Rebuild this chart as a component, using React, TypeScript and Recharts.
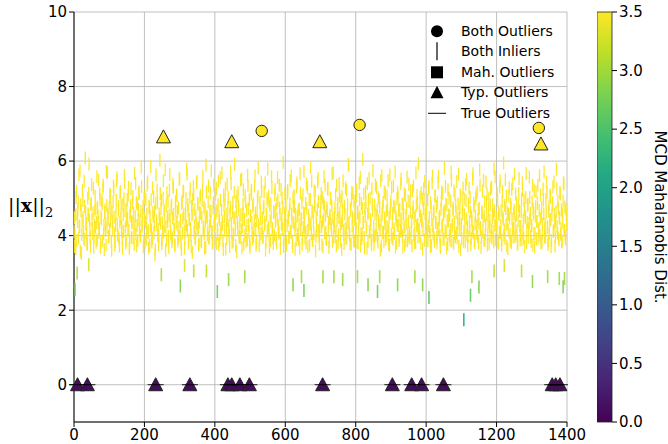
import { ScatterChart, Scatter, XAxis, YAxis, CartesianGrid, ReferenceArea } from "recharts";

const X_TICKS = [0, 200, 400, 600, 800, 1000, 1200, 1400];
const Y_TICKS = [0, 2, 4, 6, 8, 10];
const CBAR_TICKS = [0, 0.5, 1, 1.5, 2, 2.5, 3, 3.5];
const CBAR_MAX = 3.5;

// inliers (norm per sample); even samples, one array per 200 samples
const band0 = [
  4.12, 3.71, 4.55, 5.02, 3.86, 4.38, 4.91, 5.63, 4.24, 3.58,
  4.66, 4.03, 5.21, 4.47, 3.92, 4.79, 6.08, 4.31, 4.08, 3.77,
  4.59, 5.14, 4.42, 3.95, 4.83, 5.37, 4.17, 4.61, 3.69, 4.28,
  5.06, 4.73, 4.35, 3.88, 4.52, 5.49, 4.19, 4.97, 3.81, 4.44,
  4.86, 5.28, 4.06, 3.63, 4.69, 4.33, 5.72, 4.21, 4.58, 3.97,
  4.76, 5.11, 4.39, 3.84, 4.63, 4.15, 5.33, 4.49, 3.74, 4.27,
  4.94, 5.55, 4.02, 4.68, 3.91, 4.36, 5.18, 4.81, 4.11, 3.66,
  4.57, 4.99, 5.42, 4.23, 3.87, 4.71, 4.46, 5.09, 4.14, 3.79,
  4.62, 5.26, 4.37, 4.89, 3.94, 4.29, 5.67, 4.51, 4.05, 3.73,
  4.84, 4.41, 5.13, 4.18, 3.99, 4.65, 5.31, 4.32, 4.77, 3.85,
];
const band1 = [
  4.45, 3.82, 4.97, 4.21, 5.36, 4.08, 3.67, 4.74, 4.53, 5.85,
  4.16, 3.93, 4.62, 5.04, 4.29, 3.48, 4.87, 4.40, 5.22, 4.01,
  3.76, 4.58, 6.02, 4.34, 4.95, 3.89, 4.13, 5.47, 4.69, 4.26,
  3.61, 4.82, 5.15, 4.37, 3.98, 4.55, 5.64, 4.10, 4.73, 3.84,
  4.48, 5.29, 4.19, 3.72, 4.91, 4.35, 5.08, 4.64, 3.95, 4.22,
  5.53, 4.41, 3.79, 4.86, 4.07, 5.19, 4.57, 3.66, 4.30, 4.99,
  5.78, 4.15, 4.68, 3.87, 4.43, 5.25, 4.02, 4.79, 3.55, 4.61,
  5.11, 4.27, 3.91, 4.52, 5.42, 4.18, 4.84, 3.74, 4.36, 5.01,
  4.59, 3.83, 4.94, 5.59, 4.23, 4.05, 4.71, 3.68, 5.17, 4.47,
  4.12, 5.33, 3.96, 4.66, 4.39, 5.74, 4.09, 3.81, 4.88, 4.28,
];
const band2 = [
  4.33, 5.12, 3.79, 4.67, 4.04, 5.46, 4.51, 3.88, 4.95, 4.20,
  5.68, 4.37, 3.63, 4.82, 4.14, 5.27, 4.59, 3.92, 4.41, 5.03,
  4.26, 3.71, 4.76, 5.39, 4.08, 4.63, 3.85, 4.48, 5.91, 4.17,
  4.92, 3.57, 4.35, 5.16, 4.70, 4.01, 3.94, 4.57, 5.52, 4.24,
  4.85, 3.76, 4.43, 5.08, 4.11, 4.68, 3.89, 5.34, 4.29, 4.96,
  3.69, 4.54, 5.21, 4.06, 4.78, 3.98, 4.40, 5.61, 4.19, 3.82,
  4.65, 5.05, 4.31, 3.73, 4.89, 4.46, 5.43, 4.13, 3.95, 4.72,
  5.18, 4.36, 3.61, 4.58, 4.99, 5.79, 4.22, 4.03, 4.81, 3.87,
  4.50, 5.29, 4.15, 3.78, 4.64, 5.10, 4.38, 3.93, 4.87, 5.56,
  4.27, 4.07, 4.74, 3.66, 5.24, 4.45, 4.18, 5.97, 3.90, 4.60,
];
const band3 = [
  4.21, 4.83, 3.74, 5.15, 4.42, 3.96, 4.69, 5.48, 4.09, 4.57,
  3.81, 5.02, 4.34, 4.77, 3.64, 4.28, 5.31, 4.52, 4.00, 3.89,
  4.71, 5.66, 4.16, 4.44, 3.77, 5.09, 4.61, 4.25, 3.93, 4.86,
  5.38, 4.12, 3.70, 4.55, 4.97, 4.30, 5.83, 4.05, 4.66, 3.86,
  4.39, 5.20, 4.79, 3.59, 4.48, 4.13, 5.44, 4.92, 3.99, 4.23,
  4.62, 5.13, 3.75, 4.37, 4.88, 5.58, 4.08, 4.53, 3.91, 4.74,
  5.26, 4.19, 3.68, 4.45, 5.01, 4.32, 4.81, 3.84, 5.69, 4.27,
  4.59, 3.97, 4.11, 5.35, 4.70, 3.80, 4.49, 5.06, 4.24, 4.94,
  3.62, 4.40, 5.47, 4.03, 4.78, 4.17, 3.92, 5.22, 4.56, 4.33,
  5.89, 4.07, 3.78, 4.67, 4.98, 4.26, 5.14, 3.87, 4.43, 4.75,
];
const band4 = [
  4.29, 5.07, 3.83, 4.64, 4.15, 5.41, 4.50, 3.72, 4.86, 4.03,
  6.05, 4.36, 3.95, 4.73, 5.18, 4.22, 3.66, 4.58, 4.97, 5.54,
  4.10, 4.44, 3.88, 5.25, 4.67, 4.01, 3.77, 4.82, 5.36, 4.19,
  4.55, 3.93, 5.02, 4.31, 4.76, 3.61, 4.40, 5.62, 4.08, 4.89,
  3.85, 4.47, 5.13, 4.25, 3.99, 4.70, 5.48, 4.14, 3.74, 4.61,
  4.93, 5.29, 4.35, 3.90, 4.79, 4.06, 5.71, 4.53, 3.80, 4.27,
  5.04, 4.68, 3.97, 4.42, 5.39, 4.12, 4.85, 3.69, 4.57, 5.11,
  4.23, 3.86, 4.74, 5.57, 4.02, 4.38, 3.94, 4.91, 5.20, 4.16,
  3.73, 4.63, 5.33, 4.46, 4.09, 3.82, 4.80, 5.08, 4.30, 5.93,
  4.18, 3.98, 4.52, 5.15, 4.37, 3.64, 4.72, 4.96, 5.45, 4.21,
];
const band5 = [
  4.58, 3.89, 4.95, 4.26, 5.32, 4.11, 3.70, 4.77, 4.43, 5.60,
  4.05, 4.66, 3.84, 5.06, 4.34, 3.96, 4.88, 5.41, 4.19, 4.52,
  3.76, 4.71, 5.17, 4.28, 3.91, 4.62, 5.81, 4.13, 4.84, 3.67,
  4.40, 5.23, 4.56, 4.00, 3.87, 4.93, 5.49, 4.24, 4.69, 3.79,
  4.36, 5.12, 4.81, 4.07, 3.94, 4.47, 5.65, 4.17, 4.75, 3.62,
  4.31, 5.03, 4.59, 3.85, 4.98, 4.21, 5.37, 4.45, 4.02, 3.73,
  4.86, 5.27, 4.14, 4.64, 3.92, 4.39, 5.52, 4.09, 4.79, 3.81,
  4.53, 5.09, 4.27, 3.97, 4.70, 4.33, 5.76, 4.18, 3.68, 4.61,
  5.19, 4.42, 3.88, 4.91, 4.04, 5.44, 4.57, 3.75, 4.35, 5.00,
  4.23, 4.82, 3.99, 5.30, 4.48, 4.12, 3.83, 4.67, 5.58, 4.29,
];
const band6 = [
  4.37, 5.14, 3.86, 4.62, 4.09, 5.47, 4.28, 3.74, 4.90, 4.51,
  5.95, 4.16, 3.92, 4.73, 5.06, 4.32, 3.65, 4.57, 5.28, 4.03,
  4.84, 3.81, 4.45, 5.39, 4.20, 4.68, 3.97, 5.11, 4.55, 4.12,
  3.78, 4.79, 5.53, 4.25, 4.01, 4.64, 3.89, 5.22, 4.41, 4.94,
  3.71, 4.49, 5.67, 4.14, 4.80, 3.95, 4.33, 5.02, 4.60, 3.84,
  4.27, 5.35, 4.71, 4.06, 3.69, 4.53, 5.18, 4.38, 4.87, 3.93,
  4.19, 5.61, 4.46, 3.80, 4.75, 4.10, 5.25, 4.59, 3.98, 4.30,
  4.97, 5.44, 4.22, 3.76, 4.66, 4.07, 5.09, 4.43, 3.87, 4.82,
  5.31, 4.15, 4.58, 3.72, 4.39, 5.78, 4.24, 4.92, 3.94, 4.50,
  5.16, 4.04, 4.69, 3.83, 4.35, 5.42, 4.13, 4.77, 3.91, 4.56,
];

// odd samples
const odd0 = [
  4.48, 4.02, 3.65, 5.19, 4.57, 4.71, 3.93, 4.26, 5.74, 4.83,
  3.52, 4.39, 4.95, 4.11, 5.46, 3.89, 4.64, 4.32, 3.78, 5.01,
  4.54, 5.92, 4.19, 3.71, 4.87, 4.43, 4.05, 5.27, 3.96, 4.68,
  4.22, 3.82, 5.58, 4.76, 4.35, 4.09, 5.12, 3.68, 4.51, 4.93,
  3.86, 5.35, 4.28, 4.62, 4.14, 3.75, 4.80, 5.69, 4.44, 3.98,
  4.17, 5.07, 4.73, 3.61, 4.38, 4.90, 5.23, 4.06, 3.84, 4.59,
  5.48, 4.31, 4.00, 4.78, 3.72, 5.15, 4.46, 4.25, 3.91, 4.85,
  4.12, 5.61, 4.67, 3.80, 4.40, 4.97, 4.20, 5.30, 3.66, 4.53,
  4.81, 3.95, 4.34, 5.04, 4.60, 3.77, 4.15, 5.41, 4.88, 4.27,
  3.87, 4.70, 5.17, 4.42, 3.99, 5.84, 4.23, 4.56, 3.70, 4.99,
];
const odd1 = [
  5.05, 4.36, 3.90, 4.58, 5.44, 4.13, 4.79, 3.74, 4.25, 4.96,
  3.83, 5.28, 4.52, 4.07, 4.66, 3.62, 5.63, 4.30, 4.89, 4.18,
  3.97, 4.45, 5.13, 4.72, 3.79, 4.34, 5.01, 4.10, 4.61, 5.77,
  4.23, 3.88, 4.50, 4.93, 3.69, 5.22, 4.41, 4.04, 4.82, 3.94,
  5.37, 4.57, 4.16, 3.76, 4.68, 5.09, 4.29, 3.85, 4.75, 5.51,
  4.00, 4.38, 3.63, 4.92, 4.47, 5.18, 4.12, 3.92, 4.64, 4.26,
  5.66, 4.83, 3.81, 4.44, 5.02, 4.19, 3.70, 4.55, 4.97, 5.31,
  4.08, 4.70, 3.95, 4.33, 5.45, 4.87, 4.21, 3.78, 4.62, 5.08,
  3.86, 4.49, 5.25, 4.14, 4.77, 3.67, 4.37, 5.89, 4.53, 4.03,
  4.90, 3.93, 4.28, 5.15, 4.65, 4.11, 3.80, 4.74, 5.36, 4.42,
];
const odd2 = [
  3.91, 4.60, 5.27, 4.18, 4.83, 3.76, 4.42, 5.55, 4.07, 4.69,
  4.30, 3.87, 5.09, 4.51, 4.96, 3.64, 4.24, 5.38, 4.75, 4.12,
  3.98, 4.56, 5.71, 4.33, 3.82, 4.89, 4.03, 5.16, 4.47, 3.73,
  4.65, 5.04, 4.20, 4.80, 3.95, 4.37, 5.49, 4.15, 3.69, 4.58,
  5.23, 4.44, 4.01, 4.91, 3.85, 4.27, 5.62, 4.72, 4.09, 3.79,
  4.53, 5.11, 4.35, 3.92, 4.84, 4.16, 5.33, 4.61, 3.74, 4.40,
  4.98, 5.82, 4.22, 3.89, 4.67, 4.05, 5.19, 4.48, 3.97, 4.78,
  4.29, 5.42, 3.83, 4.55, 4.13, 4.93, 5.06, 3.68, 4.39, 4.86,
  5.58, 4.19, 3.94, 4.63, 4.02, 5.24, 4.70, 3.80, 4.45, 4.95,
  4.11, 5.35, 4.57, 3.88, 4.32, 5.00, 4.76, 3.72, 4.26, 5.13,
];
const odd3 = [
  4.64, 3.84, 4.27, 5.21, 4.50, 3.95, 4.86, 4.12, 5.60, 4.38,
  3.71, 4.79, 5.07, 4.20, 4.57, 3.89, 5.41, 4.03, 4.68, 4.31,
  3.66, 5.14, 4.46, 4.88, 3.93, 4.22, 5.72, 4.59, 4.08, 3.80,
  4.73, 5.30, 4.16, 4.41, 3.75, 4.97, 4.33, 5.46, 3.87, 4.62,
  4.05, 4.84, 5.18, 3.98, 4.29, 4.70, 5.53, 4.14, 3.78, 4.52,
  4.91, 4.24, 5.02, 3.69, 4.44, 4.80, 5.36, 4.09, 3.91, 4.66,
  5.25, 4.35, 3.82, 4.55, 4.99, 4.18, 5.67, 4.47, 3.96, 4.26,
  4.75, 5.10, 3.73, 4.40, 4.87, 4.02, 5.39, 4.61, 3.86, 4.32,
  5.04, 4.69, 4.13, 3.79, 4.58, 5.28, 4.21, 3.94, 4.83, 5.91,
  4.36, 4.00, 4.72, 3.77, 5.16, 4.49, 4.10, 4.93, 3.85, 4.43,
];
const odd4 = [
  4.17, 5.23, 4.61, 3.81, 4.44, 4.97, 5.56, 4.06, 3.92, 4.73,
  4.35, 5.12, 3.67, 4.52, 4.89, 4.21, 5.40, 3.85, 4.63, 4.11,
  5.01, 4.30, 3.76, 4.84, 5.74, 4.25, 3.97, 4.58, 4.01, 5.29,
  4.69, 3.83, 4.40, 4.95, 4.15, 5.47, 3.72, 4.56, 4.78, 4.09,
  5.18, 4.33, 3.90, 4.66, 5.06, 4.23, 3.78, 4.49, 5.63, 4.81,
  4.04, 3.95, 4.60, 5.33, 4.18, 4.76, 3.70, 4.42, 4.99, 5.15,
  4.28, 3.87, 4.71, 4.13, 5.52, 4.46, 3.99, 4.82, 4.20, 3.74,
  5.08, 4.55, 4.32, 3.86, 4.92, 5.37, 4.07, 4.64, 3.93, 4.39,
  5.21, 4.77, 4.02, 3.80, 4.53, 5.68, 4.26, 4.87, 3.96, 4.14,
  4.67, 5.03, 3.79, 4.43, 4.98, 4.19, 5.26, 3.88, 4.59, 4.34,
];
const odd5 = [
  4.70, 4.12, 3.86, 5.26, 4.49, 4.03, 4.88, 3.73, 5.41, 4.27,
  4.60, 3.94, 5.07, 4.35, 4.79, 3.81, 4.19, 5.59, 4.45, 4.00,
  3.68, 4.91, 4.23, 5.14, 4.57, 3.90, 4.66, 5.32, 4.09, 4.82,
  3.77, 4.38, 5.00, 4.54, 4.16, 5.70, 3.85, 4.29, 4.74, 5.20,
  4.05, 3.97, 4.62, 5.45, 4.31, 4.85, 3.71, 4.47, 5.10, 4.20,
  3.92, 4.68, 5.28, 4.11, 4.56, 3.83, 4.94, 5.51, 4.25, 3.99,
  4.78, 4.37, 5.03, 3.75, 4.51, 4.14, 5.66, 4.86, 3.88, 4.32,
  4.99, 4.07, 5.17, 4.43, 3.80, 4.73, 5.36, 4.22, 3.96, 4.64,
  4.10, 5.48, 4.53, 3.87, 4.30, 4.90, 5.12, 4.01, 4.69, 3.78,
  4.41, 5.25, 4.15, 3.93, 4.83, 4.58, 5.79, 4.26, 3.89, 4.48,
];
const odd6 = [
  4.22, 4.95, 3.79, 4.56, 5.31, 4.08, 4.67, 3.90, 5.18, 4.43,
  4.01, 4.81, 5.50, 4.29, 3.72, 4.62, 4.14, 5.06, 4.48, 3.85,
  4.75, 5.24, 4.18, 3.96, 4.59, 5.65, 4.34, 4.02, 4.87, 3.77,
  4.40, 5.13, 4.66, 3.88, 4.25, 4.98, 5.42, 4.10, 3.93, 4.71,
  4.53, 5.02, 3.81, 4.36, 4.84, 4.16, 5.57, 4.45, 3.98, 4.27,
  4.90, 3.74, 4.60, 5.21, 4.05, 4.77, 3.91, 4.38, 5.35, 4.13,
  4.69, 4.00, 5.09, 4.52, 3.83, 4.31, 4.96, 5.71, 4.19, 3.95,
  4.63, 5.16, 4.24, 3.86, 4.79, 4.42, 5.03, 3.70, 4.55, 4.88,
  4.11, 5.44, 4.33, 3.97, 4.65, 5.27, 4.07, 4.73, 3.89, 4.46,
  5.12, 4.20, 3.84, 4.58, 4.93, 5.38, 4.15, 3.99, 4.70, 4.30,
];
const EVEN_SEGMENTS = [band0, band1, band2, band3, band4, band5, band6];
const ODD_SEGMENTS = [odd0, odd1, odd2, odd3, odd4, odd5, odd6];
const SEGMENT_LEN = 200;

// lower inliers, coloured by their MCD distance
const lowX = [3, 9, 42, 248, 302, 314, 340, 376, 407, 439, 485, 622, 646, 653, 707, 738, 763, 805, 835, 862, 868, 919, 968, 990, 1008, 1107, 1126, 1130, 1150, 1193, 1222, 1271, 1302, 1345, 1378, 1389, 1393];
const lowY = [2.55, 3.0, 3.22, 2.95, 2.65, 3.2, 3.05, 3.05, 2.5, 2.82, 2.9, 2.68, 2.9, 2.53, 2.9, 2.9, 2.82, 2.9, 2.68, 2.5, 2.9, 2.68, 2.9, 2.68, 2.34, 1.74, 2.4, 2.9, 2.62, 3.05, 3.2, 3.05, 2.77, 2.9, 2.85, 2.63, 2.85];
const lowDist = [2.75, 3.1, 3.3, 3.05, 2.85, 3.3, 3.15, 3.15, 2.7, 2.95, 3.0, 2.85, 3.0, 2.75, 3.0, 3.0, 2.95, 3.0, 2.85, 2.7, 3.0, 2.85, 3.0, 2.85, 2.55, 2.15, 2.6, 3.0, 2.8, 3.15, 3.3, 3.15, 2.9, 3.0, 3.0, 2.8, 3.0];

// typicality outliers that are also true outliers (norm 0)
const zeroX = [10, 38, 232, 329, 437, 448, 471, 498, 706, 904, 959, 987, 1049, 1358, 1368, 1380];
const zeroDist = 0.1;

// typicality outliers up top
const typX = [254, 448, 698, 1326];
const typY = [6.65, 6.52, 6.52, 6.46];

// outliers for both
const bothX = [533, 811, 1320];
const bothY = [6.81, 6.97, 6.89];

const VIRIDIS = ["#440154", "#482475", "#414487", "#355f8d", "#2a788e", "#21918c", "#22a884", "#44bf70", "#7ad151", "#bddf26", "#fde725"];

function hexToRgb(h: string) {
  return [1, 3, 5].map((i) => parseInt(h.slice(i, i + 2), 16));
}
function viridis(v: number) {
  const t = Math.max(0, Math.min(1, v / CBAR_MAX)) * (VIRIDIS.length - 1);
  const i = Math.min(Math.floor(t), VIRIDIS.length - 2);
  const f = t - i;
  const a = hexToRgb(VIRIDIS[i]);
  const b = hexToRgb(VIRIDIS[i + 1]);
  const c = a.map((av, k) => Math.round(av + (b[k] - av) * f));
  return `rgb(${c[0]},${c[1]},${c[2]})`;
}

const bandData = [
  ...EVEN_SEGMENTS.flatMap((seg, s) => seg.map((y, i) => ({ x: s * SEGMENT_LEN + i * 2, y }))),
  ...ODD_SEGMENTS.flatMap((seg, s) => seg.map((y, i) => ({ x: s * SEGMENT_LEN + i * 2 + 1, y }))),
];
const lowData = lowX.map((x, i) => ({ x, y: lowY[i], d: lowDist[i] }));
const zeroData = zeroX.map((x) => ({ x, y: 0, d: zeroDist }));
const typData = typX.map((x, i) => ({ x, y: typY[i], d: CBAR_MAX }));
const bothData = bothX.map((x, i) => ({ x, y: bothY[i], d: CBAR_MAX }));
const cbarData = CBAR_TICKS.map((y) => ({ x: 0.5, y }));

const FONT = "'DejaVu Sans', sans-serif";
const TICK = { fill: "#000", fontSize: 15, fontFamily: FONT };

const VLine = (p: any) => (
  <line x1={p.cx} x2={p.cx} y1={p.cy - 6.5} y2={p.cy + 6.5}
    stroke={viridis(p.payload.d)} strokeWidth={1.6} strokeOpacity={0.9} />
);
const BandLine = (p: any) => (
  <line x1={p.cx} x2={p.cx} y1={p.cy - 6.5} y2={p.cy + 6.5} stroke="#fde725" strokeWidth={1.3} strokeOpacity={0.95} />
);
const Tri = (p: any) => (
  <polygon
    points={`${p.cx},${p.cy - 7} ${p.cx - 7},${p.cy + 6} ${p.cx + 7},${p.cy + 6}`}
    fill={viridis(p.payload.d)} stroke="#222" strokeWidth={1} />
);
const Dot = (p: any) => (
  <circle cx={p.cx} cy={p.cy} r={5.7} fill={viridis(p.payload.d)} stroke="#222" strokeWidth={1} />
);
const HLine = (p: any) => (
  <line x1={p.cx - 8} x2={p.cx + 8} y1={p.cy} y2={p.cy} stroke="#000" strokeWidth={0.9} />
);
const NoMark = () => <g />;

const YLabel = () => (
  <text x={8} y={212} fontFamily="'DejaVu Serif', serif" fontSize={19} fill="#000">
    <tspan>||</tspan>
    <tspan fontWeight="bold">x</tspan>
    <tspan>||</tspan>
    <tspan fontSize={13} dy={5}>2</tspan>
  </text>
);

const CbarLabel = () => (
  <text x={63} y={217} transform="rotate(90 63 217)" textAnchor="middle" dominantBaseline="central"
    fontFamily={FONT} fontSize={15} fill="#000">
    MCD Mahalanobis Dist.
  </text>
);

const LEGEND = ["Both Outliers", "Both Inliers", "Mah. Outliers", "Typ. Outliers", "True Outliers"];

function LegendIcon({ i }: { i: number }) {
  return (
    <svg width={24} height={20.6} style={{ display: "block" }}>
      {i === 0 && <circle cx={12} cy={10.3} r={6} fill="#000" />}
      {i === 1 && <line x1={12} x2={12} y1={1.3} y2={19.3} stroke="#000" strokeWidth={1.2} />}
      {i === 2 && <rect x={6} y={4.3} width={12} height={12} fill="#000" />}
      {i === 3 && <polygon points="12,3.8 5.5,16.3 18.5,16.3" fill="#000" />}
      {i === 4 && <line x1={3} x2={21} y1={10.3} y2={10.3} stroke="#000" strokeWidth={1} />}
    </svg>
  );
}

export default function App() {
  return (
    <div style={{ position: "relative", width: 668, height: 444, background: "#fff" }}>
      <style>{"body{margin:0}"}</style>
      <ScatterChart width={668} height={444} margin={{ top: 12, right: 101, bottom: 2, left: 34 }}>
        <CartesianGrid stroke="#b0b0b0" strokeWidth={0.8} />
        <XAxis type="number" dataKey="x" domain={[0, 1400]} ticks={X_TICKS} interval={0} height={20}
          tick={TICK} tickSize={5} tickLine={{ stroke: "#000" }} axisLine={{ stroke: "#000" }} />
        <XAxis xAxisId="top" orientation="top" type="number" dataKey="x" domain={[0, 1400]} height={0}
          tick={false} tickLine={false} axisLine={{ stroke: "#000" }} />
        <YAxis type="number" dataKey="y" domain={[-1, 10]} ticks={Y_TICKS} interval={0} width={40}
          tick={TICK} tickSize={5} tickLine={{ stroke: "#000" }} axisLine={{ stroke: "#000" }} label={<YLabel />} />
        <YAxis yAxisId="right" orientation="right" type="number" domain={[-1, 10]} width={0}
          tick={false} tickLine={false} axisLine={{ stroke: "#000" }} />
        <Scatter data={bandData} shape={BandLine} isAnimationActive={false} />
        <Scatter data={lowData} shape={VLine} isAnimationActive={false} />
        <Scatter data={zeroData} shape={Tri} isAnimationActive={false} />
        <Scatter data={zeroData} shape={HLine} isAnimationActive={false} />
        <Scatter data={typData} shape={Tri} isAnimationActive={false} />
        <Scatter data={bothData} shape={Dot} isAnimationActive={false} />
      </ScatterChart>

      <div style={{ position: "absolute", left: 597, top: 0 }}>
        <ScatterChart width={71} height={444} margin={{ top: 12, right: 0, bottom: 22, left: 0 }}>
          <defs>
            <linearGradient id="viridisGrad" x1="0" y1="1" x2="0" y2="0">
              {VIRIDIS.map((c, i) => (
                <stop key={i} offset={`${(i / (VIRIDIS.length - 1)) * 100}%`} stopColor={c} />
              ))}
            </linearGradient>
          </defs>
          <XAxis type="number" dataKey="x" domain={[0, 1]} hide />
          <YAxis type="number" dataKey="y" orientation="right" domain={[0, CBAR_MAX]} ticks={CBAR_TICKS} interval={0}
            width={56} tick={TICK} tickSize={5} tickLine={{ stroke: "#000" }} axisLine={false}
            tickFormatter={(v: number) => v.toFixed(1)} label={<CbarLabel />} />
          <ReferenceArea x1={0} x2={1} y1={0} y2={CBAR_MAX} fill="url(#viridisGrad)" fillOpacity={1}
            stroke="#222" strokeWidth={0.8} ifOverflow="visible" />
          <Scatter data={cbarData} shape={NoMark} isAnimationActive={false} />
        </ScatterChart>
      </div>

      <div style={{ position: "absolute", left: 425, top: 20.7, fontFamily: FONT, fontSize: 14, color: "#000" }}>
        {LEGEND.map((t, i) => (
          <div key={t} style={{ display: "flex", alignItems: "center", height: 20.6 }}>
            <LegendIcon i={i} />
            <span style={{ marginLeft: 12, lineHeight: "20.6px" }}>{t}</span>
          </div>
        ))}
      </div>
    </div>
  );
}
